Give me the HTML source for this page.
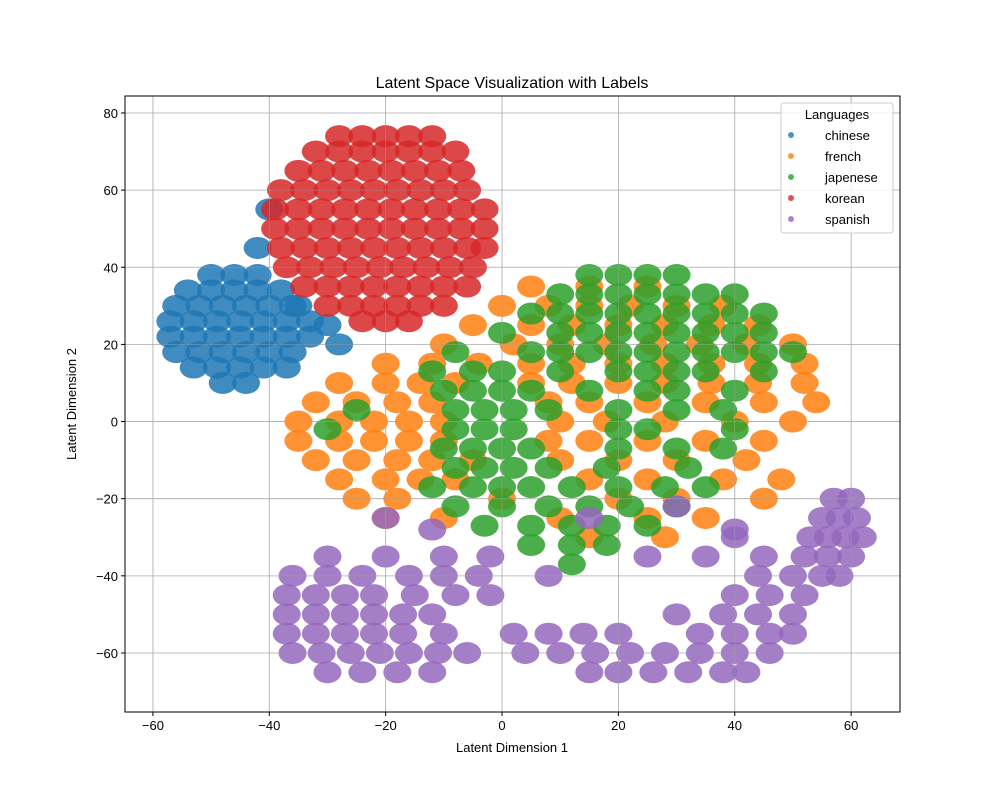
<!DOCTYPE html>
<html><head><meta charset="utf-8">
<style>
body{margin:0;background:#fff;}
svg text{font-family:"Liberation Sans",sans-serif;fill:#000;}
</style></head>
<body>
<svg id="chart" width="1000" height="800" viewBox="0 0 1000 800">
<rect width="1000" height="800" fill="#fff"/>
<g id="grid"></g>
<g id="marks"></g>
<g id="grid2"></g>
<rect x="125" y="96" width="775" height="616" fill="none" stroke="#000" stroke-width="1"/>
<g id="ticks"></g>
<text x="512" y="88" font-size="16" text-anchor="middle">Latent Space Visualization with Labels</text>
<text x="512" y="752" font-size="13" text-anchor="middle">Latent Dimension 1</text>
<text x="76" y="404" font-size="13" text-anchor="middle" transform="rotate(-90 76 404)">Latent Dimension 2</text>
<g id="legend">
<rect x="781" y="103" width="112" height="130" rx="3" fill="#fff" fill-opacity="0.8" stroke="#ccc"/>
<text x="837" y="119" font-size="13" text-anchor="middle">Languages</text>
</g>
</svg>
<script>
const xTicks=[-60,-40,-20,0,20,40,60];
const yTicks=[-60,-40,-20,0,20,40,60,80];
const seriesNames=["chinese","french","japenese","korean","spanish"];
const seriesColors=["#1f77b4","#ff7f0e","#2ca02c","#d62728","#9467bd"];
const chinesePts=[[-50,38],[-46,38],[-42,38],[-54,34],[-50,34],[-46,34],[-42,34],[-38,34],[-56,30],[-52,30],[-48,30],[-44,30],[-40,30],[-36,30],[-57,26],[-53,26],[-49,26],[-45,26],[-41,26],[-37,26],[-33,26],[-57,22],[-53,22],[-49,22],[-45,22],[-41,22],[-37,22],[-33,22],[-56,18],[-52,18],[-48,18],[-44,18],[-40,18],[-36,18],[-53,14],[-49,14],[-45,14],[-41,14],[-37,14],[-48,10],[-44,10],[-42,45],[-40,55],[-35,30],[-30,25],[-28,20]];
const frenchPts=[[5,35],[15,35],[25,35],[0,30],[8,30],[15,30],[22,30],[30,30],[38,30],[-5,25],[5,25],[12,25],[20,25],[28,25],[36,25],[44,25],[-10,20],[2,20],[10,20],[18,20],[26,20],[34,20],[42,20],[50,20],[-20,15],[-12,15],[-4,15],[5,15],[12,15],[20,15],[28,15],[36,15],[44,15],[52,15],[-28,10],[-20,10],[-14,10],[-8,10],[5,10],[12,10],[20,10],[28,10],[36,10],[44,10],[52,10],[-32,5],[-25,5],[-18,5],[-12,5],[8,5],[15,5],[25,5],[35,5],[45,5],[54,5],[-35,0],[-28,0],[-22,0],[-16,0],[-10,0],[10,0],[18,0],[28,0],[40,0],[50,0],[-35,-5],[-28,-5],[-22,-5],[-16,-5],[-10,-5],[8,-5],[15,-5],[25,-5],[35,-5],[45,-5],[-32,-10],[-25,-10],[-18,-10],[-12,-10],[-5,-10],[10,-10],[20,-10],[30,-10],[42,-10],[-28,-15],[-20,-15],[-14,-15],[-8,-15],[15,-15],[25,-15],[38,-15],[48,-15],[-25,-20],[-18,-20],[0,-20],[20,-20],[30,-20],[45,-20],[-20,-25],[-10,-25],[10,-25],[25,-25],[35,-25],[15,-30],[28,-30]];
const japanesePts=[[15,38],[20,38],[25,38],[30,38],[10,33],[15,33],[20,33],[25,33],[30,33],[35,33],[40,33],[5,28],[10,28],[15,28],[20,28],[25,28],[30,28],[35,28],[40,28],[45,28],[0,23],[10,23],[15,23],[20,23],[25,23],[30,23],[35,23],[40,23],[45,23],[-8,18],[5,18],[10,18],[15,18],[20,18],[25,18],[30,18],[35,18],[40,18],[45,18],[50,18],[-12,13],[-5,13],[0,13],[10,13],[20,13],[25,13],[30,13],[35,13],[45,13],[-10,8],[-5,8],[0,8],[5,8],[15,8],[25,8],[30,8],[40,8],[-25,3],[-8,3],[-3,3],[2,3],[8,3],[20,3],[30,3],[38,3],[-30,-2],[-8,-2],[-3,-2],[2,-2],[20,-2],[25,-2],[40,-2],[-10,-7],[-5,-7],[0,-7],[5,-7],[20,-7],[30,-7],[38,-7],[-8,-12],[-3,-12],[2,-12],[8,-12],[18,-12],[32,-12],[-12,-17],[-5,-17],[0,-17],[5,-17],[12,-17],[20,-17],[28,-17],[35,-17],[-8,-22],[0,-22],[8,-22],[15,-22],[22,-22],[30,-22],[-3,-27],[5,-27],[12,-27],[18,-27],[25,-27],[5,-32],[12,-32],[18,-32],[12,-37]];
const koreanPts=[[-28,74],[-24,74],[-20,74],[-16,74],[-12,74],[-32,70],[-28,70],[-24,70],[-20,70],[-16,70],[-12,70],[-8,70],[-35,65],[-31,65],[-27,65],[-23,65],[-19,65],[-15,65],[-11,65],[-7,65],[-38,60],[-34,60],[-30,60],[-26,60],[-22,60],[-18,60],[-14,60],[-10,60],[-6,60],[-39,55],[-35,55],[-31,55],[-27,55],[-23,55],[-19,55],[-15,55],[-11,55],[-7,55],[-3,55],[-39,50],[-35,50],[-31,50],[-27,50],[-23,50],[-19,50],[-15,50],[-11,50],[-7,50],[-3,50],[-38,45],[-34,45],[-30,45],[-26,45],[-22,45],[-18,45],[-14,45],[-10,45],[-6,45],[-3,45],[-37,40],[-33,40],[-29,40],[-25,40],[-21,40],[-17,40],[-13,40],[-9,40],[-5,40],[-34,35],[-30,35],[-26,35],[-22,35],[-18,35],[-14,35],[-10,35],[-6,35],[-30,30],[-26,30],[-22,30],[-18,30],[-14,30],[-10,30],[-24,26],[-20,26],[-16,26]];
const spanishPts=[[57,-20],[60,-20],[55,-25],[58,-25],[61,-25],[40,-30],[53,-30],[56,-30],[59,-30],[62,-30],[-30,-35],[-20,-35],[-10,-35],[-2,-35],[25,-35],[35,-35],[45,-35],[52,-35],[56,-35],[60,-35],[-36,-40],[-30,-40],[-24,-40],[-16,-40],[-10,-40],[-4,-40],[8,-40],[44,-40],[50,-40],[55,-40],[58,-40],[-37,-45],[-32,-45],[-27,-45],[-22,-45],[-15,-45],[-8,-45],[-2,-45],[40,-45],[46,-45],[52,-45],[-37,-50],[-32,-50],[-27,-50],[-22,-50],[-17,-50],[-12,-50],[30,-50],[38,-50],[44,-50],[50,-50],[-37,-55],[-32,-55],[-27,-55],[-22,-55],[-17,-55],[-10,-55],[2,-55],[8,-55],[14,-55],[20,-55],[34,-55],[40,-55],[46,-55],[50,-55],[-36,-60],[-31,-60],[-26,-60],[-21,-60],[-16,-60],[-11,-60],[-6,-60],[4,-60],[10,-60],[16,-60],[22,-60],[28,-60],[34,-60],[40,-60],[46,-60],[-30,-65],[-24,-65],[-18,-65],[-12,-65],[15,-65],[20,-65],[26,-65],[32,-65],[38,-65],[42,-65],[15,-25],[30,-22],[40,-28],[-12,-28],[-20,-25]];
const allSeries=[chinesePts,frenchPts,japanesePts,koreanPts,spanishPts];

const NS="http://www.w3.org/2000/svg";
const X0=125,X1=900,Y0=96,Y1=712;
const xMin=-64.8,xMax=68.4,yMin=-75.3,yMax=84.4;
function sx(v){return X0+(v-xMin)/(xMax-xMin)*(X1-X0);}
function sy(v){return Y1-(v-yMin)/(yMax-yMin)*(Y1-Y0);}
function mk(tag,attrs,parent){const e=document.createElementNS(NS,tag);for(const k in attrs)e.setAttribute(k,attrs[k]);parent.appendChild(e);return e;}
const grid=document.getElementById('grid'),grid2=document.getElementById('grid2'),ticks=document.getElementById('ticks'),marks=document.getElementById('marks');
xTicks.forEach(t=>{const x=sx(t);
 const g=mk('line',{x1:x,x2:x,y1:Y0,y2:Y1,stroke:'#b0b0b0','stroke-width':0.8},grid);
 
 
 mk('line',{x1:x,x2:x,y1:Y0,y2:Y1,stroke:'#b0b0b0','stroke-width':0.8,'stroke-opacity':0.5},grid2);
 mk('line',{x1:x,x2:x,y1:Y1,y2:Y1+4,stroke:'#000'},ticks);
 const l=mk('text',{x:x,y:Y1+18,'font-size':13,'text-anchor':'middle'},ticks);l.textContent=String(t).replace('-','\u2212');
 
 
});
yTicks.forEach(t=>{const y=sy(t);
 const g=mk('line',{x1:X0,x2:X1,y1:y,y2:y,stroke:'#b0b0b0','stroke-width':0.8},grid);
 
 
 mk('line',{x1:X0,x2:X1,y1:y,y2:y,stroke:'#b0b0b0','stroke-width':0.8,'stroke-opacity':0.5},grid2);
 mk('line',{x1:X0-4,x2:X0,y1:y,y2:y,stroke:'#000'},ticks);
 const l=mk('text',{x:X0-7,y:y+5,'font-size':13,'text-anchor':'end'},ticks);l.textContent=String(t).replace('-','\u2212');
 
 
});
allSeries.forEach((pts,i)=>{
 const g=mk('g',{fill:seriesColors[i],'fill-opacity':0.85},marks);
 
 
 pts.forEach(p=>{const c=mk('ellipse',{cx:sx(p[0]),cy:sy(p[1]),rx:14,ry:11},g);
  
  });
});
const leg=document.getElementById('legend');
seriesNames.forEach((n,i)=>{const y=135+i*21;
 const c=mk('circle',{cx:791,cy:y,r:3,fill:seriesColors[i],'fill-opacity':0.8},leg);
 
 
 const t=mk('text',{x:825,y:y+5,'font-size':13},leg);t.textContent=n;
 
 
});
</script>
</body></html>
